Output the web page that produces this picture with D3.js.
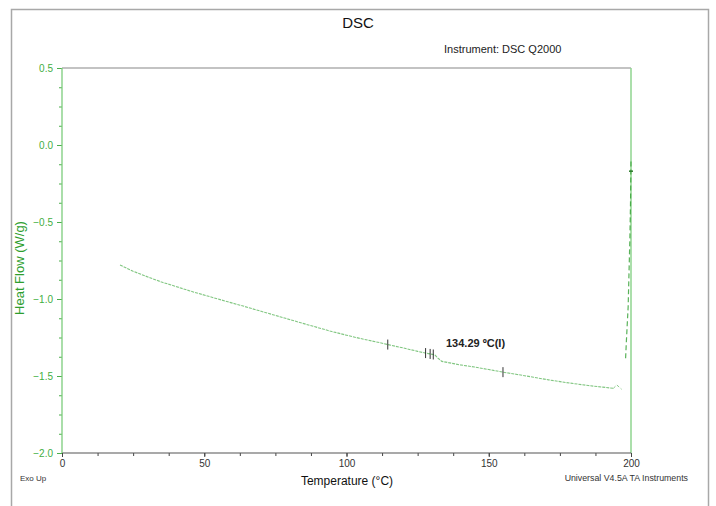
<!DOCTYPE html>
<html>
<head>
<meta charset="utf-8">
<script src="https://cdn.jsdelivr.net/npm/d3@7"></script>
<style>
  body { margin: 0; background: #fff; }
  svg text { font-family: "Liberation Sans", Arial, sans-serif; }
</style>
</head>
<body>
<svg id="chart" width="716" height="506"></svg>
<script>
// values
let temps = [20.4, 25, 30.9, 35, 40.3, 45, 52, 59, 62.6, 70, 76.6, 85, 94.2, 100, 105, 111.8, 115, 120, 125, 128, 131, 132, 133.5, 140, 145, 150, 155, 160, 165.7, 171, 177.4, 185, 190, 193.8];
let heatFlow = [-0.779, -0.82, -0.862, -0.89, -0.92, -0.948, -0.985, -1.022, -1.04, -1.08, -1.115, -1.16, -1.208, -1.235, -1.257, -1.284, -1.298, -1.318, -1.34, -1.352, -1.362, -1.382, -1.405, -1.428, -1.442, -1.458, -1.475, -1.49, -1.508, -1.525, -1.543, -1.562, -1.572, -1.58];
let hookTemps = [193.8, 195, 196.7];
let hookFlow = [-1.58, -1.558, -1.586];
let riseTemps = [198.1, 198.4, 199.0, 199.3, 199.6, 199.85, 200];
let riseFlow = [-1.385, -1.266, -1.05, -0.831, -0.617, -0.357, -0.097];
let markerTemps = [114.5, 127.8, 129.4, 130.5, 155];
let xTicks = [0, 50, 100, 150, 200];
let yTicks = [0.5, 0.0, -0.5, -1.0, -1.5, -2.0];

let svg = d3.select("#chart");
let plotL = 62, plotR = 631, plotT = 68, plotB = 453;
let green = "#4cae4c";

let x = d3.scaleLinear().domain([0, 200]).range([plotL, plotR]);
let y = d3.scaleLinear().domain([-2, 0.5]).range([plotB, plotT]);

// outer frame
svg.append("rect").attr("x", 11.5).attr("y", 9.5).attr("width", 697).attr("height", 510)
  .attr("fill", "none").attr("stroke", "#a8a8a8").attr("stroke-width", 1.5);

svg.append("text").attr("x", 358).attr("y", 28).attr("text-anchor", "middle")
  .attr("font-size", 15).attr("fill", "#111").text("DSC");
svg.append("text").attr("x", 444).attr("y", 53)
  .attr("font-size", 11).attr("fill", "#222").text("Instrument: DSC Q2000");

// top border and right border of plot
svg.append("line").attr("x1", plotL).attr("x2", plotR).attr("y1", plotT).attr("y2", plotT)
  .attr("stroke", "#888").attr("stroke-width", 1.2);
svg.append("line").attr("x1", plotR).attr("x2", plotR).attr("y1", plotT).attr("y2", plotB)
  .attr("stroke", "#8fd48f").attr("stroke-width", 1.5);

// x axis
let xMinor = d3.range(0, 200.01, 12.5);
let xg = svg.append("g").attr("transform", `translate(0,${plotB})`);
xg.call(d3.axisBottom(x).tickValues(xMinor).tickSize(3).tickFormat(""))
  .call(g => g.select(".domain").remove())
  .call(g => g.selectAll("line").attr("stroke", "#444"));
xg.append("line").attr("x1", plotL).attr("x2", plotR).attr("stroke", "#555").attr("stroke-width", 1.2);
xg.append("g").call(d3.axisBottom(x).tickValues(xTicks).tickSize(4).tickPadding(3).tickFormat(d3.format("d")))
  .call(g => g.select(".domain").remove())
  .call(g => g.selectAll("line").attr("stroke", "#444"))
  .call(g => g.selectAll("text").attr("font-size", 10).attr("fill", "#333")
    .attr("font-family", "Liberation Sans, Arial, sans-serif"));

// y axis
let yMinor = d3.range(-2, 0.501, 0.125);
let yg = svg.append("g").attr("transform", `translate(${plotL},0)`);
yg.call(d3.axisLeft(y).tickValues(yMinor).tickSize(3).tickFormat(""))
  .call(g => g.select(".domain").remove())
  .call(g => g.selectAll("line").attr("stroke", green));
yg.append("g").call(d3.axisLeft(y).tickValues(yTicks).tickSize(5).tickPadding(4).tickFormat(d3.format(".1f")))
  .call(g => g.select(".domain").remove())
  .call(g => g.selectAll("line").attr("stroke", green))
  .call(g => g.selectAll("text").attr("font-size", 10).attr("fill", "#3fae3f")
    .attr("font-family", "Liberation Sans, Arial, sans-serif"));
yg.append("line").attr("y1", plotT).attr("y2", plotB).attr("stroke", "#7ccc7c").attr("stroke-width", 1.3);

svg.append("text").attr("transform", "translate(24,268) rotate(-90)").attr("text-anchor", "middle")
  .attr("font-size", 13).attr("fill", "#2e9e2e").text("Heat Flow (W/g)");

svg.append("text").attr("x", 347).attr("y", 485).attr("text-anchor", "middle")
  .attr("font-size", 12).attr("fill", "#111").text("Temperature (°C)");
svg.append("text").attr("x", 20).attr("y", 481)
  .attr("font-size", 8).attr("fill", "#333").text("Exo Up");
svg.append("text").attr("x", 688).attr("y", 481).attr("text-anchor", "end")
  .attr("font-size", 8.8).attr("fill", "#333").text("Universal V4.5A TA Instruments");

// curve
let line = d3.line().x(d => x(d[0])).y(d => y(d[1]));
let main = temps.map((t, i) => [t, heatFlow[i]]);
let hook = hookTemps.map((t, i) => [t, hookFlow[i]]);
let rise = riseTemps.map((t, i) => [t, riseFlow[i]]);

svg.append("path").datum(main).attr("d", line).attr("fill", "none")
  .attr("stroke", "#3da83d").attr("stroke-width", 1.1).attr("stroke-opacity", 0.65)
  .attr("stroke-dasharray", "3,1");
svg.append("path").datum(hook).attr("d", line).attr("fill", "none")
  .attr("stroke", "#3da83d").attr("stroke-width", 1).attr("stroke-opacity", 0.6)
  .attr("stroke-dasharray", "3,2");
svg.append("path").datum(rise).attr("d", line).attr("fill", "none")
  .attr("stroke", "#2f9f2f").attr("stroke-width", 1.2).attr("stroke-opacity", 0.8)
  .attr("stroke-dasharray", "5,3");

// analysis markers
let interp = d3.scaleLinear().domain(temps).range(heatFlow);
svg.selectAll(".marker").data(markerTemps).enter().append("line")
  .attr("class", "marker")
  .attr("x1", d => x(d)).attr("x2", d => x(d))
  .attr("y1", d => y(interp(d)) - 5).attr("y2", d => y(interp(d)) + 5)
  .attr("stroke", "#333").attr("stroke-width", 1);
svg.append("line").attr("x1", x(200) - 2).attr("x2", x(200) + 2)
  .attr("y1", y(-0.17)).attr("y2", y(-0.17)).attr("stroke", "#2a7a2a").attr("stroke-width", 1.5);

svg.append("text").attr("x", 446).attr("y", 347)
  .attr("font-size", 11).attr("font-weight", "bold").attr("fill", "#222").text("134.29 ºC(I)");
</script>
</body>
</html>
